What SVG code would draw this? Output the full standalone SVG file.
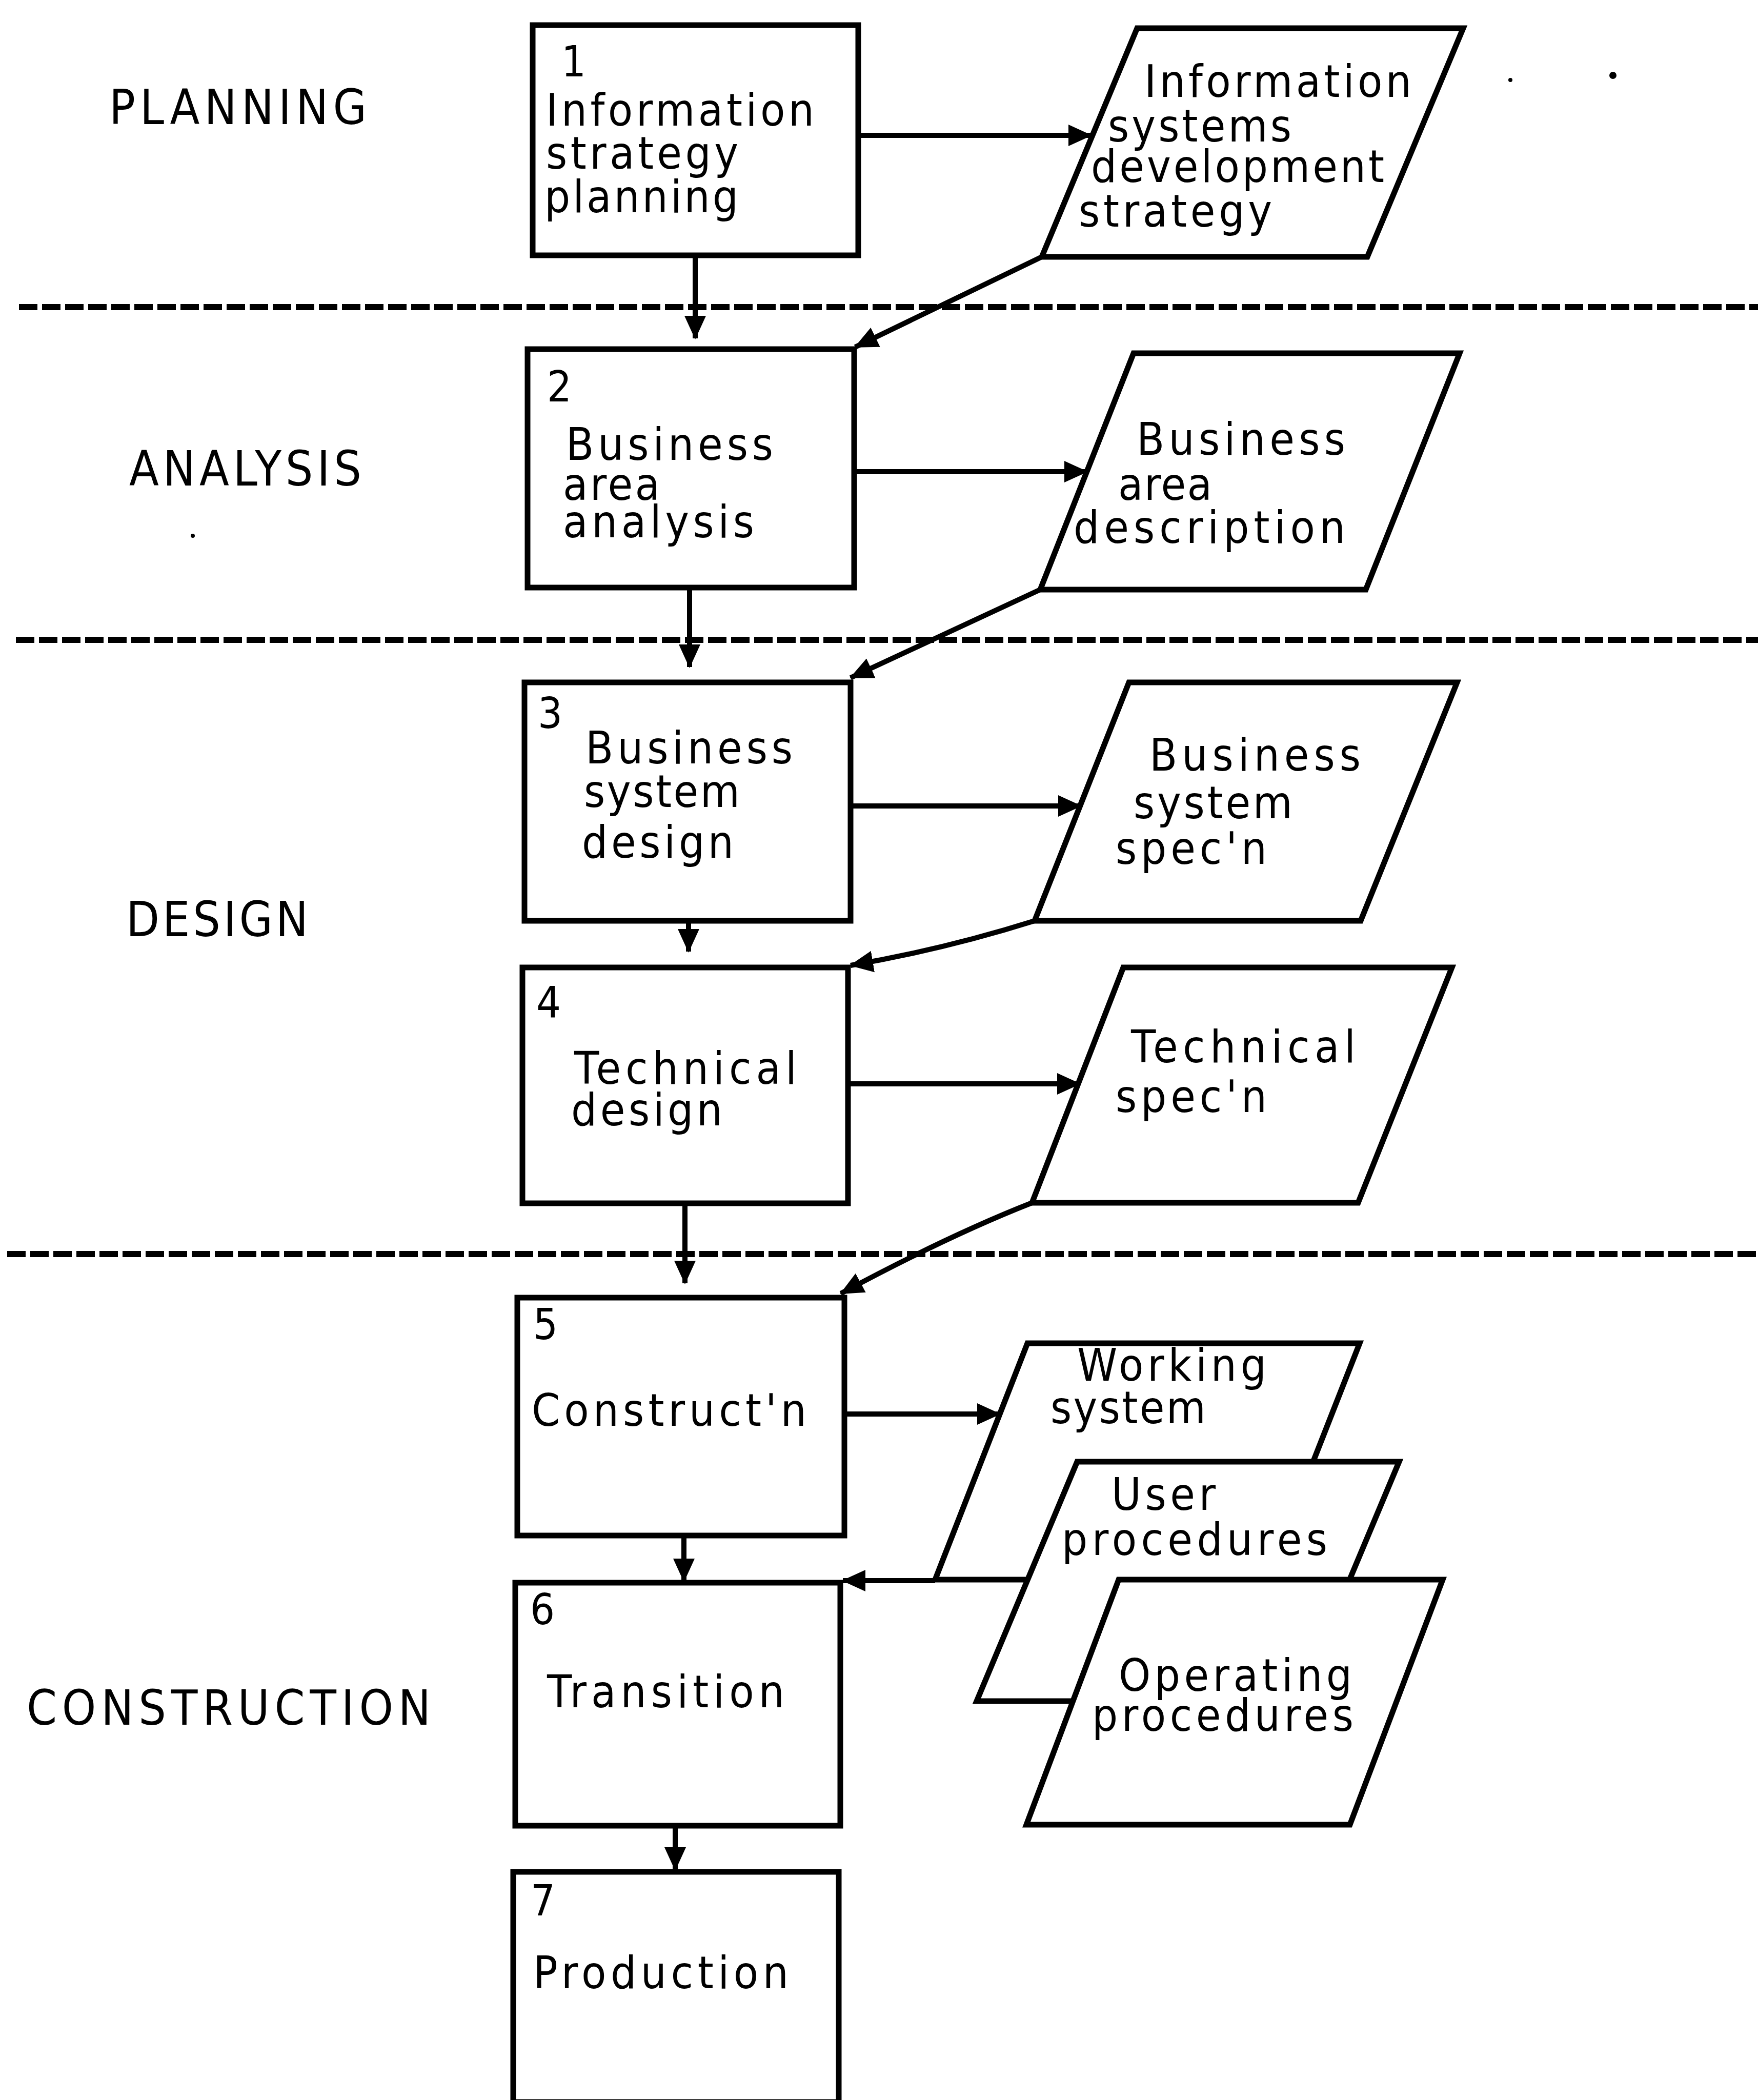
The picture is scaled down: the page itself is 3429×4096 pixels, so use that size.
<svg xmlns="http://www.w3.org/2000/svg" width="3429" height="4096" viewBox="0 0 3429 4096">
<style>
  .box { fill: #fff; stroke: #000; stroke-width: 11; stroke-linejoin: miter; }
  .t { font-family: "DejaVu Sans Condensed", "Liberation Sans", sans-serif; font-size: 88px; fill: #000; }
  .num { font-size: 84px; }
  .phase { font-size: 94px; }
  .flow { fill: none; stroke: #000; stroke-width: 10; }
  .sep { fill: none; stroke: #000; stroke-width: 12; stroke-dasharray: 36 9; }
</style>
<defs>
  <marker id="ah" markerUnits="userSpaceOnUse" viewBox="0 0 46 46" refX="44" refY="23" markerWidth="46" markerHeight="46" orient="auto">
    <path d="M0,2 L46,23 L0,44 z" fill="#000"/>
  </marker>
</defs>
<rect x="0" y="0" width="3429" height="4096" fill="#fff"/>

<!-- phase separators -->
<g id="separators">
  <line class="sep" x1="37" y1="599" x2="3429" y2="599"/>
  <line class="sep" x1="31" y1="1248" x2="3429" y2="1248"/>
  <line class="sep" x1="14" y1="2446" x2="3429" y2="2446"/>
</g>

<!-- phase names -->
<g id="phases">
  <text class="t phase" x="213" y="242" textLength="502">PLANNING</text>
  <text class="t phase" x="252" y="947" textLength="453">ANALYSIS</text>
  <text class="t phase" x="246" y="1826" textLength="355">DESIGN</text>
  <text class="t phase" x="52" y="3364" textLength="788">CONSTRUCTION</text>
</g>

<!-- stray marks -->
<g id="marks">
  <circle cx="2946" cy="156" r="4"/>
  <circle cx="3146" cy="147" r="7"/>
  <circle cx="376" cy="1045" r="4"/>
</g>

<!-- connectors -->
<g id="connectors">
  <line class="flow" x1="1356" y1="498" x2="1356" y2="660" marker-end="url(#ah)"/>
  <line class="flow" x1="1345" y1="1146" x2="1345" y2="1301" marker-end="url(#ah)"/>
  <line class="flow" x1="1343" y1="1796" x2="1343" y2="1856" marker-end="url(#ah)"/>
  <line class="flow" x1="1336" y1="2347" x2="1336" y2="2503" marker-end="url(#ah)"/>
  <line class="flow" x1="1334" y1="2995" x2="1334" y2="3084" marker-end="url(#ah)"/>
  <line class="flow" x1="1317" y1="3561" x2="1317" y2="3647" marker-end="url(#ah)"/>

  <line class="flow" x1="1674" y1="264" x2="2128" y2="264" marker-end="url(#ah)"/>
  <line class="flow" x1="1666" y1="920" x2="2120" y2="920" marker-end="url(#ah)"/>
  <line class="flow" x1="1659" y1="1572" x2="2108" y2="1572" marker-end="url(#ah)"/>
  <line class="flow" x1="1654" y1="2114" x2="2106" y2="2114" marker-end="url(#ah)"/>
  <line class="flow" x1="1647" y1="2758" x2="1950" y2="2758" marker-end="url(#ah)"/>

  <path class="flow" d="M2032,501 L1668,677" marker-end="url(#ah)"/>
  <path class="flow" d="M2029,1150 L1659,1322" marker-end="url(#ah)"/>
  <path class="flow" d="M2018,1796 Q1840,1852 1659,1883" marker-end="url(#ah)"/>
  <path class="flow" d="M2013,2346 Q1850,2410 1640,2523" marker-end="url(#ah)"/>
  <line class="flow" x1="1824" y1="3083" x2="1644" y2="3083" marker-end="url(#ah)"/>
</g>

<!-- activities -->
<g id="n1">
  <rect class="box" x="1039" y="49" width="635" height="449"/>
  <text class="t num" x="1095" y="149">1</text>
  <text class="t" x="1065" y="245" textLength="523">Information</text>
  <text class="t" x="1065" y="329" textLength="375">strategy</text>
  <text class="t" x="1062" y="414" textLength="378">planning</text>
</g>
<g id="n2">
  <rect class="box" x="1029" y="681" width="637" height="465"/>
  <text class="t num" x="1067" y="783">2</text>
  <text class="t" x="1104" y="897" textLength="404">Business</text>
  <text class="t" x="1098" y="975" textLength="189">area</text>
  <text class="t" x="1098" y="1048" textLength="373">analysis</text>
</g>
<g id="n3">
  <rect class="box" x="1023" y="1331" width="636" height="465"/>
  <text class="t num" x="1049" y="1420">3</text>
  <text class="t" x="1142" y="1489" textLength="404">Business</text>
  <text class="t" x="1139" y="1574" textLength="304">system</text>
  <text class="t" x="1135" y="1673" textLength="296">design</text>
</g>
<g id="n4">
  <rect class="box" x="1019" y="1887" width="635" height="460"/>
  <text class="t num" x="1046" y="1984">4</text>
  <text class="t" x="1120" y="2114" textLength="434">Technical</text>
  <text class="t" x="1114" y="2195" textLength="295">design</text>
</g>
<g id="n5">
  <rect class="box" x="1009" y="2531" width="638" height="464"/>
  <text class="t num" x="1040" y="2612">5</text>
  <text class="t" x="1037" y="2781" textLength="536">Construct'n</text>
</g>
<g id="n6">
  <rect class="box" x="1005" y="3087" width="634" height="474"/>
  <text class="t num" x="1034" y="3168">6</text>
  <text class="t" x="1067" y="3330" textLength="463">Transition</text>
</g>
<g id="n7">
  <rect class="box" x="1001" y="3651" width="635" height="449"/>
  <text class="t num" x="1035" y="3736">7</text>
  <text class="t" x="1040" y="3878" textLength="498">Production</text>
</g>

<!-- deliverables -->
<g id="d1">
  <polygon class="box" points="2218,55 2854,55 2667,501 2032,501"/>
  <text class="t" x="2232" y="189" textLength="521">Information</text>
  <text class="t" x="2161" y="276" textLength="358">systems</text>
  <text class="t" x="2128" y="355" textLength="572">development</text>
  <text class="t" x="2104" y="442" textLength="377">strategy</text>
</g>
<g id="d2">
  <polygon class="box" points="2211,689 2847,689 2664,1150 2029,1150"/>
  <text class="t" x="2217" y="887" textLength="407">Business</text>
  <text class="t" x="2181" y="975" textLength="183">area</text>
  <text class="t" x="2094" y="1059" textLength="530">description</text>
</g>
<g id="d3">
  <polygon class="box" points="2202,1331 2842,1331 2654,1796 2018,1796"/>
  <text class="t" x="2242" y="1503" textLength="412">Business</text>
  <text class="t" x="2211" y="1596" textLength="310">system</text>
  <text class="t" x="2176" y="1685" textLength="295">spec'n</text>
</g>
<g id="d4">
  <polygon class="box" points="2191,1887 2832,1887 2649,2346 2013,2346"/>
  <text class="t" x="2206" y="2072" textLength="438">Technical</text>
  <text class="t" x="2176" y="2169" textLength="295">spec'n</text>
</g>
<g id="d5">
  <polygon class="box" points="2004,2620 2652,2620 2471,3081 1824,3081"/>
  <text class="t" x="2101" y="2693" textLength="369">Working</text>
  <text class="t" x="2049" y="2776" textLength="303">system</text>
</g>
<g id="d6">
  <polygon class="box" points="2101,2851 2729,2851 2533,3318 1905,3318"/>
  <text class="t" x="2168" y="2945" textLength="203">User</text>
  <text class="t" x="2071" y="3033" textLength="518">procedures</text>
</g>
<g id="d7">
  <polygon class="box" points="2182,3081 2814,3081 2633,3559 2002,3559"/>
  <text class="t" x="2182" y="3298" textLength="455">Operating</text>
  <text class="t" x="2130" y="3376" textLength="510">procedures</text>
</g>
</svg>
